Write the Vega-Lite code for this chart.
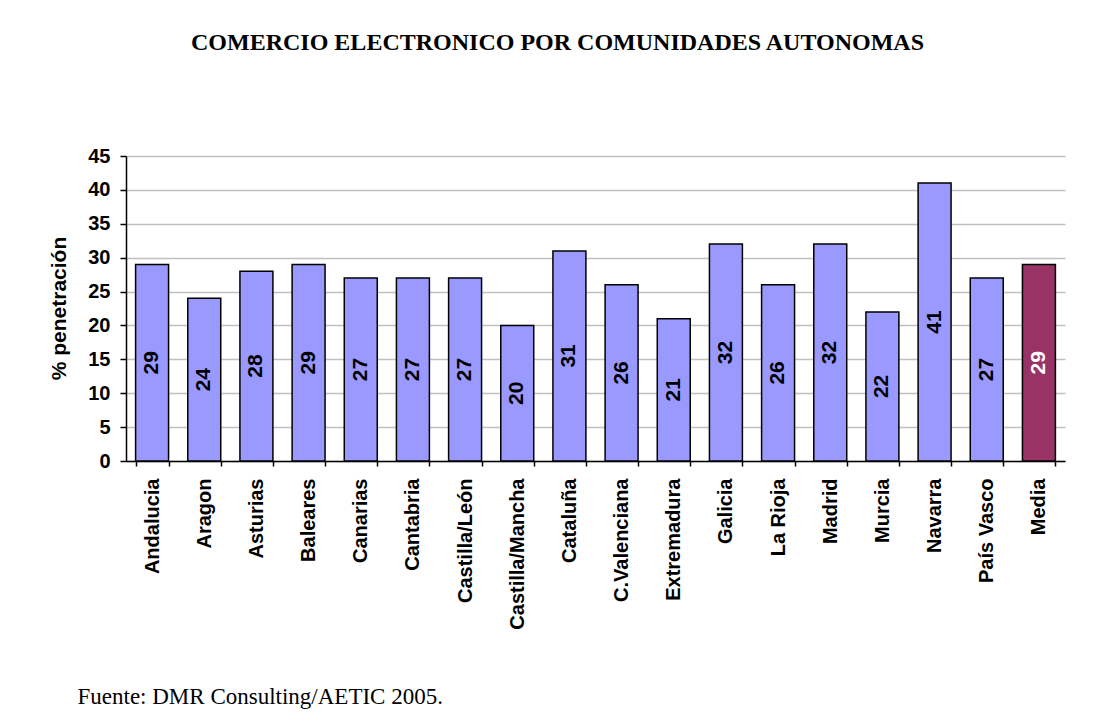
{
  "$schema": "https://vega.github.io/schema/vega-lite/v6.json",
  "width": 939,
  "height": 305,
  "autosize": {"type": "none"},
  "padding": {"left": 126, "top": 156, "right": 40, "bottom": 266},
  "background": "white",
  "title": {
    "text": "COMERCIO ELECTRONICO POR COMUNIDADES AUTONOMAS",
    "font": "Liberation Serif",
    "fontSize": 24,
    "fontWeight": "bold",
    "color": "black",
    "anchor": "middle",
    "dx": -38,
    "baseline": "alphabetic",
    "offset": 72
  },
  "config": {
    "view": {"stroke": null},
    "axis": {"labelColor": "black", "titleColor": "black"}
  },
  "data": {
    "values": [
      {"region": "Andalucia", "value": 29, "tipo": "Comunidad"},
      {"region": "Aragon", "value": 24, "tipo": "Comunidad"},
      {"region": "Asturias", "value": 28, "tipo": "Comunidad"},
      {"region": "Baleares", "value": 29, "tipo": "Comunidad"},
      {"region": "Canarias", "value": 27, "tipo": "Comunidad"},
      {"region": "Cantabria", "value": 27, "tipo": "Comunidad"},
      {"region": "Castilla/León", "value": 27, "tipo": "Comunidad"},
      {"region": "Castilla/Mancha", "value": 20, "tipo": "Comunidad"},
      {"region": "Cataluña", "value": 31, "tipo": "Comunidad"},
      {"region": "C.Valenciana", "value": 26, "tipo": "Comunidad"},
      {"region": "Extremadura", "value": 21, "tipo": "Comunidad"},
      {"region": "Galicia", "value": 32, "tipo": "Comunidad"},
      {"region": "La Rioja", "value": 26, "tipo": "Comunidad"},
      {"region": "Madrid", "value": 32, "tipo": "Comunidad"},
      {"region": "Murcia", "value": 22, "tipo": "Comunidad"},
      {"region": "Navarra", "value": 41, "tipo": "Comunidad"},
      {"region": "País Vasco", "value": 27, "tipo": "Comunidad"},
      {"region": "Media", "value": 29, "tipo": "Media"}
    ]
  },
  "encoding": {
    "x": {
      "field": "region",
      "type": "nominal",
      "sort": null,
      "scale": {"paddingInner": 0.368, "paddingOuter": 0.184},
      "axis": {
        "title": "Fuente: DMR Consulting/AETIC 2005.",
        "titleFont": "Liberation Serif",
        "titleFontSize": 23,
        "titleFontWeight": "normal",
        "titleAlign": "left",
        "titleBaseline": "alphabetic",
        "titleAnchor": "start",
        "titleX": -49,
        "titleY": 242,
        "tickBand": "extent",
        "domainColor": "black",
        "domainWidth": 1.5,
        "tickColor": "black",
        "tickWidth": 1.5,
        "tickSize": 5,
        "labelAngle": -90,
        "labelAlign": "right",
        "labelBaseline": "middle",
        "labelPadding": 12,
        "labelFont": "Liberation Sans",
        "labelFontSize": 20,
        "labelFontWeight": "bold",
        "labelLimit": 300
      }
    }
  },
  "layer": [
    {
      "mark": {"type": "bar", "stroke": "black", "strokeWidth": 1.5},
      "encoding": {
        "y": {
          "field": "value",
          "type": "quantitative",
          "scale": {"domain": [0, 45], "nice": false},
          "axis": {
            "title": "% penetración",
            "titleFont": "Liberation Sans",
            "titleFontSize": 21,
            "titleFontWeight": "bold",
            "titleX": -67,
            "titleY": 152,
            "titleAlign": "center",
            "titleBaseline": "middle",
            "titleAngle": -90,
            "values": [0, 5, 10, 15, 20, 25, 30, 35, 40, 45],
            "domainColor": "black",
            "domainWidth": 1.5,
            "tickColor": "black",
            "tickWidth": 1.5,
            "tickSize": 6,
            "labelPadding": 10,
            "labelFont": "Liberation Sans",
            "labelFontSize": 20,
            "labelFontWeight": "bold",
            "gridColor": "#c0c0c0",
            "gridWidth": 1.5
          }
        },
        "fill": {
          "field": "tipo",
          "type": "nominal",
          "scale": {"domain": ["Comunidad", "Media"], "range": ["#9999FF", "#993366"]},
          "legend": null
        }
      }
    },
    {
      "mark": {
        "type": "text",
        "angle": 270,
        "align": "center",
        "baseline": "middle",
        "font": "Liberation Sans",
        "fontSize": 21,
        "fontWeight": "bold"
      },
      "encoding": {
        "y": {
          "field": "value",
          "type": "quantitative",
          "scale": {"domain": [0, 90], "nice": false},
          "axis": null
        },
        "text": {"field": "value", "type": "quantitative"},
        "color": {
          "condition": {"test": "datum.tipo === 'Media'", "value": "white"},
          "value": "black"
        }
      }
    }
  ],
  "resolve": {"scale": {"y": "independent"}}
}
